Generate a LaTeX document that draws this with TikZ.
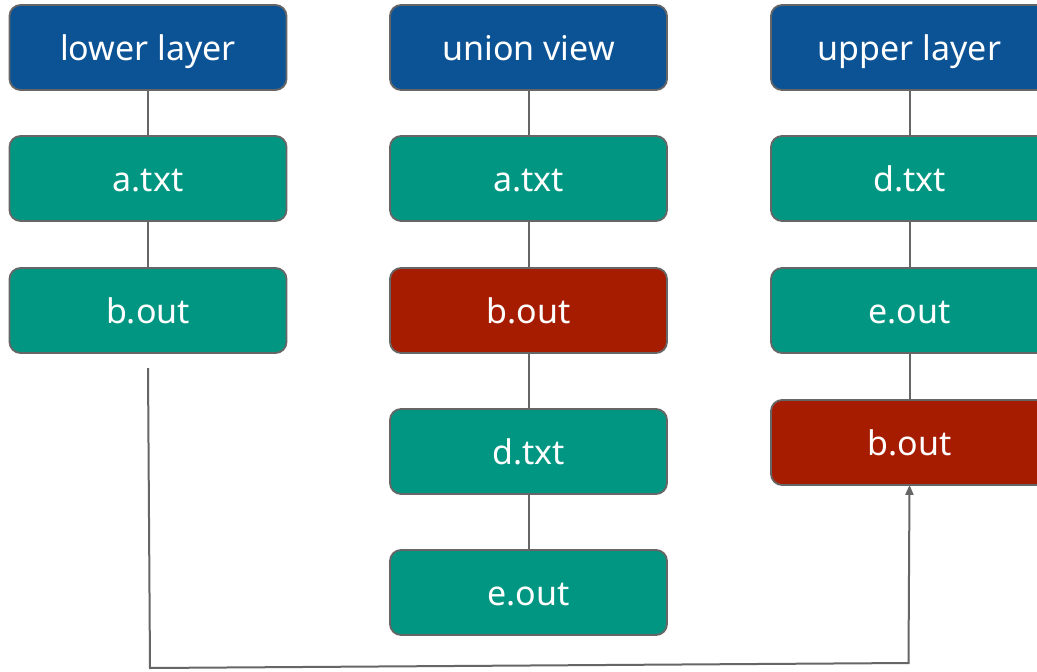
\documentclass[tikz,border=0pt]{standalone}
\usepackage{fontspec}
\setmainfont{Noto Sans}
\usetikzlibrary{arrows.meta}
\definecolor{layerblue}{HTML}{0B5394}
\definecolor{fileteal}{HTML}{009682}
\definecolor{filered}{HTML}{A61C00}
\definecolor{edgegray}{HTML}{666666}
\tikzset{
  box/.style={draw=edgegray, line width=1.8pt, rounded corners=11pt,
    minimum width=277pt, minimum height=85pt, inner sep=0pt,
    text=white, font=\fontsize{34}{40}\selectfont,
    text height=30pt, text depth=4pt},
  layer/.style={box, fill=layerblue},
  file/.style={box, fill=fileteal},
  gone/.style={box, fill=filered},
  link/.style={draw=edgegray, line width=2pt},
}
\begin{document}
\begin{tikzpicture}[x=1pt, y=-1pt]
\useasboundingbox (0,0) rectangle (1037,672);
\clip (0,0) rectangle (1037,672);
\fill[white] (0,0) rectangle (1037,672);
% lower layer column
\node[layer] (L1) at (148,47.5) {lower layer};
\node[file]  (L2) at (148,178.5) {a.txt};
\node[file]  (L3) at (148,310.5) {b.out};
% union view column
\node[layer] (C1) at (528.5,47.5) {union view};
\node[file]  (C2) at (528.5,178.5) {a.txt};
\node[gone]  (C3) at (528.5,310.5) {b.out};
\node[file]  (C4) at (528.5,451.5) {d.txt};
\node[file]  (C5) at (528.5,592.5) {e.out};
% upper layer column
\node[layer] (R1) at (909.5,47.5) {upper layer};
\node[file]  (R2) at (909.5,178.5) {d.txt};
\node[file]  (R3) at (909.5,310.5) {e.out};
\node[gone]  (R4) at (909.5,442.5) {b.out};
% column links
\draw[link] (L1) -- (L2);
\draw[link] (L2) -- (L3);
\draw[link] (C1) -- (C2);
\draw[link] (C2) -- (C3);
\draw[link] (C3) -- (C4);
\draw[link] (C4) -- (C5);
\draw[link] (R1) -- (R2);
\draw[link] (R2) -- (R3);
\draw[link] (R3) -- (R4);
% copy-up path from the lower layer to the upper layer
\coordinate (start) at (148,368);
\coordinate (turnA) at (150,668);
\coordinate (turnB) at (908.5,663);
\draw[link, -{Triangle[length=10pt,width=8pt]}] (start) -- (turnA) -- (turnB) -- ([yshift=1pt]R4.south);
\end{tikzpicture}
\end{document}
